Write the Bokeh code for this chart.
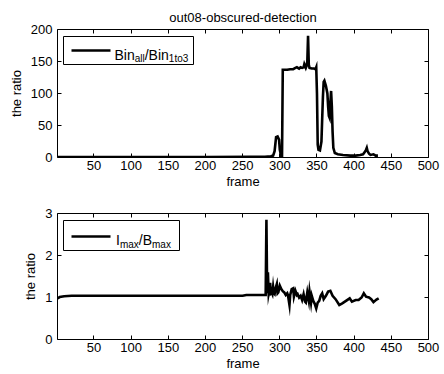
from bokeh.plotting import figure
from bokeh.layouts import column
from bokeh.models import Label, BoxAnnotation, Arrow, FixedTicker, Range1d, LinearAxis
from bokeh.embed import file_html
from bokeh.resources import INLINE

# ---------------- data ----------------
title_text = "out08-obscured-detection"
x_label = "frame"
y_label = "the ratio"
x_ticks = [50, 100, 150, 200, 250, 300, 350, 400, 450, 500]
top_y_ticks = [0, 50, 100, 150, 200]
bot_y_ticks = [0, 1, 2, 3]

top_frames = [1, 20, 60, 120, 200, 260, 280, 284, 288, 291,
              293, 295, 297, 299, 300, 302, 303, 304, 306, 310,
              314, 318, 321, 323, 326, 328, 330, 332, 333, 335,
              336, 337, 338, 339, 340, 343, 346, 348, 349, 350,
              351, 352, 354, 356, 357, 358, 359, 360, 362, 364,
              365, 366, 367, 368, 369, 370, 371, 372, 374, 378,
              385, 395, 402, 408, 412, 414, 416, 417, 418, 420,
              422, 426, 429, 432]
top_values = [0.6, 0.7, 0.7, 0.8, 0.8, 0.9, 1.0, 1.5, 2.0, 3.0,
              10, 32, 33, 28, 12, 1.5, 1.0, 137, 137, 137,
              138, 138, 140, 141, 139, 141, 140, 141, 146, 140,
              143, 150, 190, 145, 140, 139, 139, 138, 141, 100,
              20, 12, 11, 25, 60, 95, 118, 120, 112, 100,
              80, 65, 62, 85, 104, 80, 40, 15, 7, 5,
              4, 3, 3, 4, 5, 8, 12, 15, 10, 6,
              4, 5, 3, 3]

bot_frames = [1, 4, 10, 20, 100, 250, 255, 270, 281, 282,
              283, 284, 285, 286, 287, 288, 289, 290, 291, 292,
              293, 294, 296, 297, 298, 300, 302, 304, 306, 308,
              310, 311, 313, 314, 316, 318, 319, 321, 323, 324,
              326, 328, 330, 332, 334, 335, 337, 339, 340, 342,
              343, 345, 347, 349, 351, 353, 355, 357, 359, 362,
              365, 368, 371, 375, 380, 384, 389, 394, 397, 402,
              406, 410, 413, 416, 420, 423, 426, 430, 433]
bot_values = [0.98, 1.01, 1.03, 1.04, 1.04, 1.04, 1.06, 1.06, 1.06, 2.85,
              1.1, 1.6, 1.1, 1.2, 1.35, 1.1, 1.12, 1.08, 1.25, 1.1,
              1.08, 1.2, 1.32, 1.1, 1.12, 1.28, 1.2, 1.15, 1.12, 1.06,
              1.1, 1.05, 0.82, 1.06, 1.2, 1.22, 1.02, 1.16, 1.06, 1.08,
              1.0, 1.04, 0.94, 1.08, 0.9, 0.88, 1.12, 0.92, 1.14, 0.88,
              1.04, 0.92, 0.85, 0.74, 0.88, 0.92, 1.04, 1.1, 0.96, 1.04,
              1.14, 1.16, 1.04, 0.96, 0.82, 0.86, 0.92, 0.98, 0.9, 0.94,
              0.94, 1.0, 1.1, 1.02, 1.0, 0.96, 0.89, 0.95, 0.98]

top_legend = [("Bin", False), ("all", True), ("/Bin", False), ("1to3", True)]
bot_legend = [("I", False), ("max", True), ("/B", False), ("max", True)]

# ---------------- styling ----------------
FONT = "Liberation Sans"
FS = "13px"
LEG_FS = "14px"
SUB_FS = "10px"
LW = 2.6
X_RANGE = (1, 500)


def style(p, yticks):
    p.outline_line_color = "black"
    p.outline_line_width = 1
    p.outline_line_alpha = 1
    p.xgrid.visible = False
    p.ygrid.visible = False
    p.background_fill_color = "white"
    p.border_fill_color = "white"
    for ax, ticks in ((p.xaxis[0], x_ticks), (p.yaxis[0], yticks)):
        ax.ticker = FixedTicker(ticks=ticks)
        ax.minor_tick_line_color = None
        ax.major_tick_in = 4
        ax.major_tick_out = 0
        ax.major_label_text_font = FONT
        ax.major_label_text_font_size = FS
        ax.major_label_text_color = "black"
        ax.axis_label_text_font = FONT
        ax.axis_label_text_font_size = FS
        ax.axis_label_text_font_style = "normal"
        ax.axis_label_text_color = "black"
        ax.axis_line_color = None
        ax.major_tick_line_color = "black"
    p.xaxis[0].major_label_standoff = 3
    p.xaxis[0].axis_label_standoff = 1
    p.yaxis[0].major_label_standoff = 5
    p.yaxis[0].axis_label_standoff = 4
    # mirrored ticks on top and right (labels not drawn)
    for loc, ticks in (("above", x_ticks), ("right", yticks)):
        a = LinearAxis(ticker=FixedTicker(ticks=ticks))
        a.major_label_text_font_size = "1px"
        a.major_label_text_color = None
        a.major_label_standoff = 0
        a.major_tick_in = 4
        a.major_tick_out = 0
        a.minor_tick_line_color = None
        a.axis_line_color = None
        a.major_tick_line_color = "black"
        p.add_layout(a, loc)


def add_legend(p, frame, xr, yr, box, line_y, line_x, text_x0, base, sub_base, pieces):
    fl, ft, fr, fb = frame

    def dx(px):
        return xr[0] + (px - fl) / (fr - fl) * (xr[1] - xr[0])

    def dy(py):
        return yr[0] + (fb - py) / (fb - ft) * (yr[1] - yr[0])

    bl, bt, br, bb = box
    p.add_layout(BoxAnnotation(left=dx(bl), right=dx(br), top=dy(bt), bottom=dy(bb),
                               fill_color="white", fill_alpha=1.0,
                               line_color="black", line_width=1, line_alpha=1.0))
    p.add_layout(Arrow(end=None, x_start=dx(line_x[0]), x_end=dx(line_x[1]),
                       y_start=dy(line_y), y_end=dy(line_y),
                       line_color="black", line_width=LW))
    # character advance widths (em) for Arial-metric fonts
    adv = {"B": 0.667, "i": 0.222, "n": 0.556, "a": 0.556, "l": 0.222, "/": 0.278,
           "1": 0.556, "t": 0.278, "o": 0.556, "3": 0.556, "I": 0.278, "m": 0.833,
           "x": 0.5}
    x = text_x0
    for txt, sub in pieces:
        size = 10.0 if sub else 14.0
        p.add_layout(Label(x=dx(x), y=dy(sub_base if sub else base), text=txt,
                           text_font=FONT, text_font_size=SUB_FS if sub else LEG_FS,
                           text_baseline="alphabetic", text_align="left",
                           text_color="black"))
        x += sum(adv[c] for c in txt) * size


# ---------------- top figure ----------------
p1 = figure(width=444, height=193, x_range=Range1d(*X_RANGE), y_range=Range1d(0, 200),
            output_backend="svg", toolbar_location=None,
            min_border_left=57, min_border_right=16, min_border_top=29, min_border_bottom=36,
            title=title_text)
p1.title.text_font = FONT
p1.title.text_font_size = FS
p1.title.text_font_style = "normal"
p1.title.align = "center"
p1.title.text_color = "black"
p1.line(top_frames, top_values, line_color="black", line_width=LW, line_join="miter")
p1.xaxis.axis_label = x_label
p1.yaxis.axis_label = y_label
style(p1, top_y_ticks)
add_legend(p1, (57, 29, 428, 157), X_RANGE, (0, 200),
           (63, 36, 193, 64), 50, (71, 110), 114, 54, 58, top_legend)

# ---------------- bottom figure ----------------
p2 = figure(width=444, height=181, x_range=Range1d(*X_RANGE), y_range=Range1d(0, 3),
            output_backend="svg", toolbar_location=None,
            min_border_left=57, min_border_right=16, min_border_top=20, min_border_bottom=35)
p2.line(bot_frames, bot_values, line_color="black", line_width=LW, line_join="miter")
p2.xaxis.axis_label = x_label
p2.yaxis.axis_label = y_label
style(p2, bot_y_ticks)
add_legend(p2, (57, 20, 428, 146), X_RANGE, (0, 3),
           (63, 27, 179, 57), 43, (71, 110), 115.5, 46.5, 51, bot_legend)

layout = column(p1, p2, spacing=0)
open("out.html", "w").write(file_html(layout, INLINE))
